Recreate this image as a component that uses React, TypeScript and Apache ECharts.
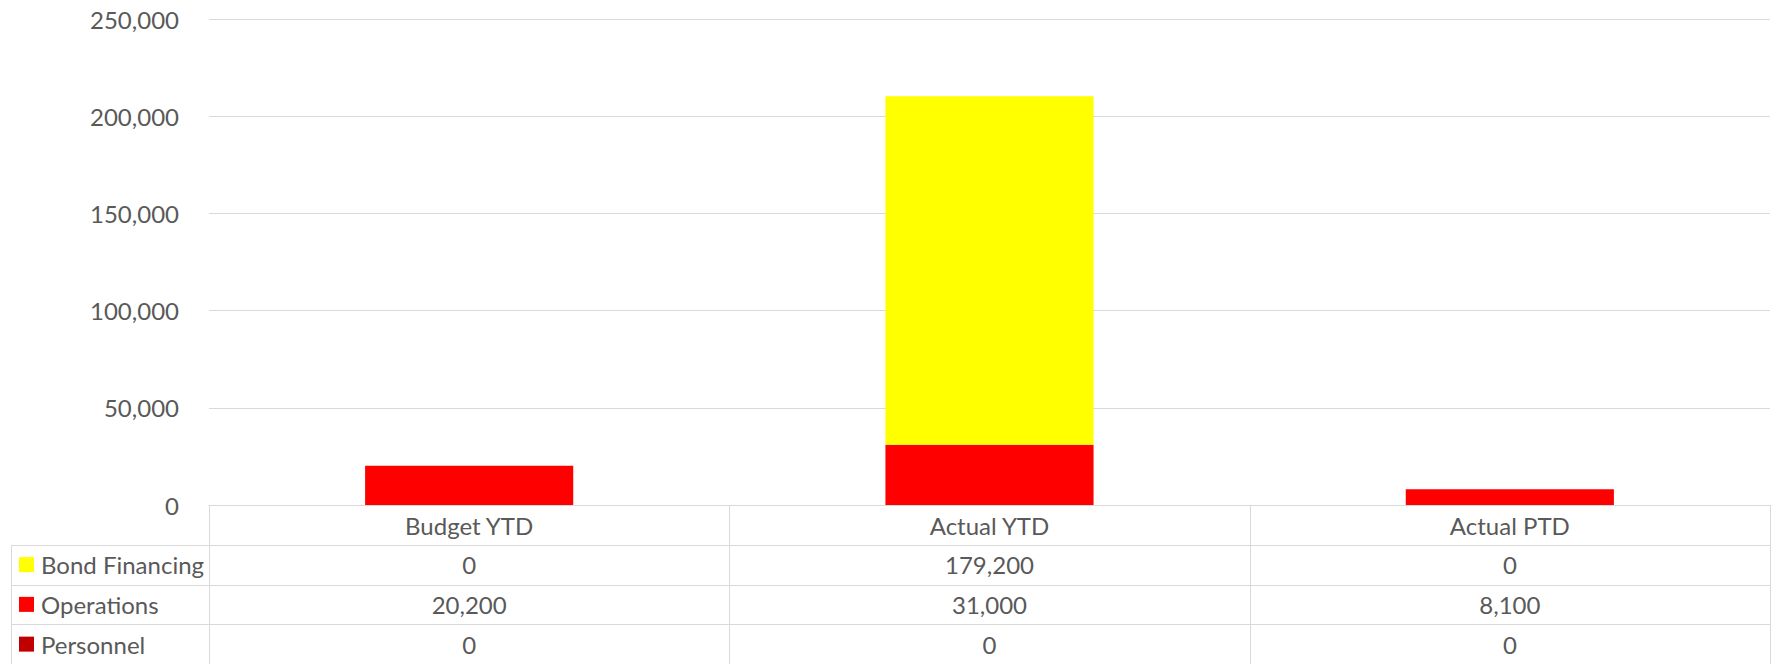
import React, { useEffect, useRef } from "react";
import * as echarts from "echarts";

const categories = ["Budget YTD", "Actual YTD", "Actual PTD"];
const bondFinancing = [0, 179200, 0];
const operations = [20200, 31000, 8100];
const personnel = [0, 0, 0];
const yMin = 0;
const yMax = 250000;
const yInterval = 50000;

// table rows (top to bottom) as shown in the data table
const tableRows = [
  { name: "Bond Financing", color: "#FFFF00", values: bondFinancing },
  { name: "Operations", color: "#FF0000", values: operations },
  { name: "Personnel", color: "#C00000", values: personnel },
];

const W = 1772;
const H = 664;
const GRID_LEFT = 209;
const GRID_RIGHT = 2;
const GRID_TOP = 19;
const GRID_BOTTOM = 159;
const TABLE_LEFT = 11;
const FONT = "Lato, 'Open Sans', sans-serif";
const TEXT = "#595959";
const LINE = "#D9D9D9";
const FS = 24;

const fmt = (v: number) => v.toLocaleString("en-US");

export default function App() {
  const ref = useRef<HTMLDivElement>(null);
  useEffect(() => {
    if (!ref.current) return;
    const chart = echarts.init(ref.current, null, { renderer: "svg" });
    chart.setOption({
      animation: false,
      backgroundColor: "#ffffff",
      textStyle: { fontFamily: FONT },
      grid: { left: GRID_LEFT, right: GRID_RIGHT, top: GRID_TOP, bottom: GRID_BOTTOM, containLabel: false },
      xAxis: {
        type: "category",
        data: categories,
        axisLine: { show: true, lineStyle: { color: LINE, width: 1 } },
        axisTick: { show: false },
        axisLabel: { color: TEXT, fontSize: FS, fontFamily: FONT, margin: 8 },
      },
      yAxis: {
        type: "value",
        min: yMin,
        max: yMax,
        interval: yInterval,
        axisLine: { show: false },
        axisTick: { show: false },
        splitLine: { lineStyle: { color: LINE, width: 1 } },
        axisLabel: { color: TEXT, fontSize: FS, fontFamily: FONT, margin: 30, formatter: (v: number) => fmt(v) },
      },
      series: [
        { name: "Personnel", type: "bar", stack: "s", data: personnel, barWidth: "40%", itemStyle: { color: "#C00000" } },
        { name: "Operations", type: "bar", stack: "s", data: operations, barWidth: "40%", itemStyle: { color: "#FF0000" } },
        { name: "Bond Financing", type: "bar", stack: "s", data: bondFinancing, barWidth: "40%", itemStyle: { color: "#FFFF00" } },
      ],
    });

    const y0 = H - GRID_BOTTOM;
    const xR = W - GRID_RIGHT;
    const rowH = (H - y0) / 4;
    const bandW = (xR - GRID_LEFT) / categories.length;
    const centers = categories.map((c) => chart.convertToPixel({ xAxisIndex: 0 }, c) as number);
    const els: any[] = [];
    const lineStyle = { stroke: LINE, lineWidth: 1 };
    for (let k = 1; k <= 3; k++) {
      const y = Math.round(y0 + rowH * k) + 0.5;
      els.push({ type: "line", shape: { x1: TABLE_LEFT, y1: y, x2: xR, y2: y }, style: lineStyle, silent: true });
    }
    for (let i = 0; i <= categories.length; i++) {
      const x = Math.round(GRID_LEFT + bandW * i) + 0.5;
      els.push({ type: "line", shape: { x1: x, y1: y0, x2: x, y2: H }, style: lineStyle, silent: true });
    }
    const yl = Math.round(y0 + rowH) + 0.5;
    els.push({ type: "line", shape: { x1: TABLE_LEFT + 0.5, y1: yl, x2: TABLE_LEFT + 0.5, y2: H }, style: lineStyle, silent: true });

    tableRows.forEach((row, r) => {
      const cy = y0 + rowH * (r + 1.5);
      els.push({ type: "rect", shape: { x: 19, y: cy - 7.5, width: 15, height: 15 }, style: { fill: row.color }, silent: true });
      els.push({
        type: "text",
        x: 41,
        y: cy,
        style: { text: row.name, fill: TEXT, font: `${FS}px ${FONT}`, textAlign: "left", textVerticalAlign: "middle" },
        silent: true,
      });
      row.values.forEach((v, i) => {
        els.push({
          type: "text",
          x: centers[i],
          y: cy,
          style: { text: fmt(v), fill: TEXT, font: `${FS}px ${FONT}`, textAlign: "center", textVerticalAlign: "middle" },
          silent: true,
        });
      });
    });
    chart.setOption({ graphic: { elements: els } });

    return () => chart.dispose();
  }, []);
  return <div ref={ref} style={{ position: "absolute", left: 0, top: 0, width: W, height: H }} />;
}
